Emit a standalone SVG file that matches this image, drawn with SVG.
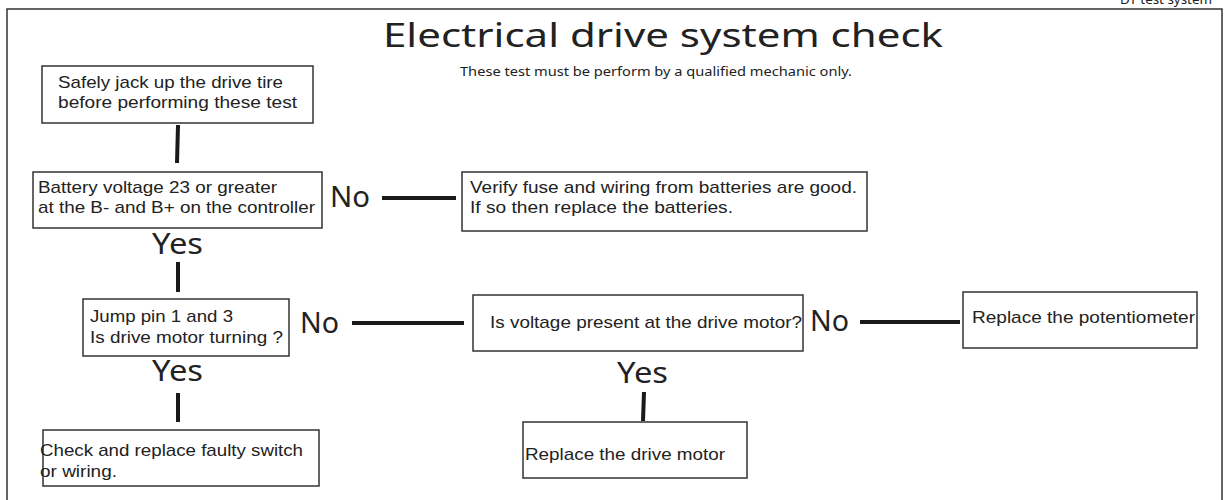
<svg xmlns="http://www.w3.org/2000/svg" width="1227" height="500" viewBox="0 0 1227 500">
<style>
text{font-family:"Noto Sans","Open Sans",sans-serif;fill:#222}
.box{fill:#fff;stroke:#333;stroke-width:1.5}
.t{font-family:"Liberation Sans",Arial,sans-serif;font-size:17px}
.lbl{font-size:29px}
.conn line{stroke:#1a1a1a;stroke-width:4}
</style>
<rect width="1227" height="500" fill="#fff"/>
<rect x="7" y="9" width="1215" height="500" fill="none" stroke="#333" stroke-width="1.5"/>
<text x="1120" y="4" font-size="13px" textLength="92" lengthAdjust="spacingAndGlyphs">DT test system</text>
<g id="title">
<text x="383" y="47" font-size="33px" textLength="560" lengthAdjust="spacingAndGlyphs">Electrical drive system check</text>
<text x="460" y="76" font-size="12.5px" textLength="392" lengthAdjust="spacingAndGlyphs">These test must be perform by a qualified mechanic only.</text>
</g>
<g class="conn" id="connectors">
<line x1="178" y1="125" x2="177" y2="163"/>
<line x1="382" y1="198" x2="456" y2="198"/>
<line x1="178" y1="262" x2="178" y2="292"/>
<line x1="352" y1="323" x2="464" y2="323"/>
<line x1="860" y1="322" x2="960" y2="322"/>
<line x1="178" y1="393" x2="178" y2="422"/>
<line x1="644" y1="392" x2="643" y2="421"/>
</g>
<g id="n1"><rect class="box" x="42" y="66" width="271" height="57"/>
<text class="t" x="58" y="88" textLength="225" lengthAdjust="spacingAndGlyphs">Safely jack up the drive tire</text><text class="t" x="58" y="108" textLength="239" lengthAdjust="spacingAndGlyphs">before performing these test</text></g>
<g id="n2"><rect class="box" x="33" y="172" width="289" height="56"/>
<text class="t" x="38" y="193" textLength="239" lengthAdjust="spacingAndGlyphs">Battery voltage 23 or greater</text><text class="t" x="38" y="213" textLength="277" lengthAdjust="spacingAndGlyphs">at the B- and B+ on the controller</text></g>
<g id="l1"><text class="lbl" x="330" y="207" textLength="40" lengthAdjust="spacingAndGlyphs">No</text></g>
<g id="n3"><rect class="box" x="462" y="172" width="405" height="59"/>
<text class="t" x="470" y="193" textLength="387" lengthAdjust="spacingAndGlyphs">Verify fuse and wiring from batteries are good.</text><text class="t" x="470" y="213" textLength="263" lengthAdjust="spacingAndGlyphs">If so then replace the batteries.</text></g>
<g id="l2"><text class="lbl" x="152" y="254" textLength="51" lengthAdjust="spacingAndGlyphs">Yes</text></g>
<g id="n4"><rect class="box" x="83" y="299" width="206" height="57"/>
<text class="t" x="90" y="322" textLength="143" lengthAdjust="spacingAndGlyphs">Jump pin 1 and 3</text><text class="t" x="90" y="343" textLength="193" lengthAdjust="spacingAndGlyphs">Is drive motor turning ?</text></g>
<g id="l3"><text class="lbl" x="300" y="333" textLength="39" lengthAdjust="spacingAndGlyphs">No</text></g>
<g id="n5"><rect class="box" x="473" y="295" width="330" height="56"/>
<text class="t" x="490" y="328" textLength="312" lengthAdjust="spacingAndGlyphs">Is voltage present at the drive motor?</text></g>
<g id="l4"><text class="lbl" x="810" y="331" textLength="39" lengthAdjust="spacingAndGlyphs">No</text></g>
<g id="n6"><rect class="box" x="963" y="292" width="234" height="56"/>
<text class="t" x="972" y="323" textLength="223" lengthAdjust="spacingAndGlyphs">Replace the potentiometer</text></g>
<g id="l5"><text class="lbl" x="152" y="381" textLength="51" lengthAdjust="spacingAndGlyphs">Yes</text></g>
<g id="n7"><rect class="box" x="43" y="430" width="276" height="56"/>
<text class="t" x="40" y="456" textLength="263" lengthAdjust="spacingAndGlyphs">Check and replace faulty switch</text><text class="t" x="40" y="477" textLength="77" lengthAdjust="spacingAndGlyphs">or wiring.</text></g>
<g id="l6"><text class="lbl" x="617" y="383" textLength="51" lengthAdjust="spacingAndGlyphs">Yes</text></g>
<g id="n8"><rect class="box" x="523" y="422" width="224" height="56"/>
<text class="t" x="525" y="460" textLength="200" lengthAdjust="spacingAndGlyphs">Replace the drive motor</text></g>
</svg>
